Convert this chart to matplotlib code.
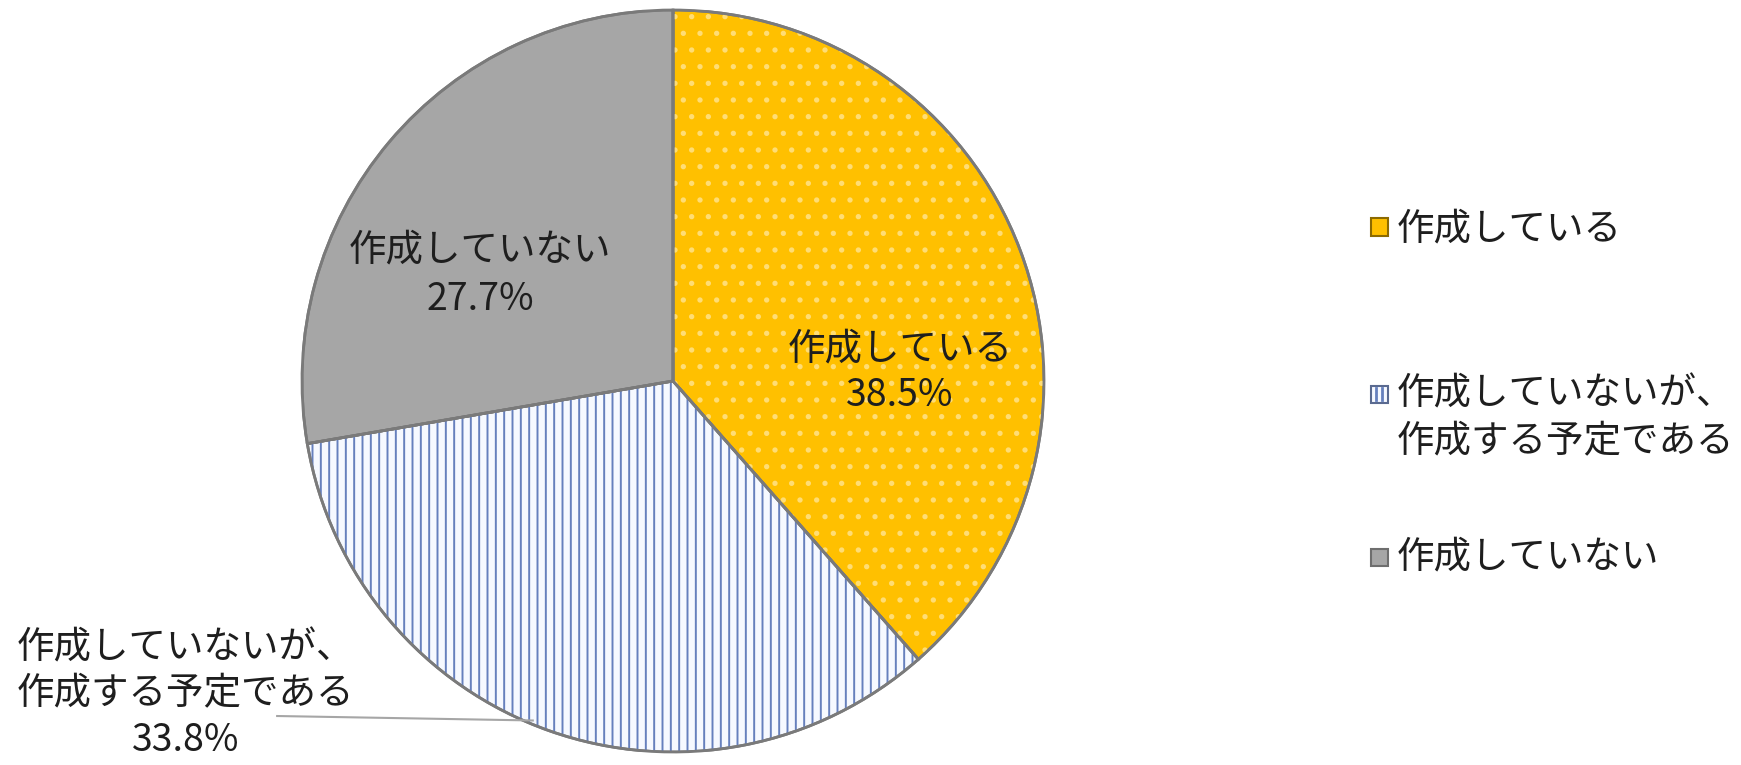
import matplotlib.pyplot as plt
import numpy as np
from matplotlib.patches import Wedge, Rectangle

plt.rcParams['font.family'] = ['Noto Sans CJK JP', 'DejaVu Sans']

# data
labels = ['作成している', '作成していないが、\n作成する予定である', '作成していない']
values = [38.5, 33.8, 27.7]
colors = ['#FFC000', '#F6F9FF', '#A6A6A6']
hatches = ['.', '||', None]
hatch_colors = ['#FFDD75', '#6680BD', None]

W, H = 1741, 765
fig = plt.figure(figsize=(W / 100, H / 100), dpi=100)
cx, cy, r = 673, 381, 371
ax = fig.add_axes([(cx - r) / W, (H - cy - r) / H, 2 * r / W, 2 * r / H])

plt.rcParams['hatch.linewidth'] = 1.4
wedges, _ = ax.pie(values, colors=colors, startangle=90, counterclock=False,
                   radius=1, wedgeprops=dict(edgecolor='#7A7A7A', linewidth=2))
# hatch overlays
for w, h, hc in zip(wedges, hatches, hatch_colors):
    if h is None:
        continue
    ov = Wedge(w.center, w.r, w.theta1, w.theta2, facecolor='none',
               edgecolor=hc, linewidth=0, hatch=h)
    ax.add_patch(ov)
# redraw outlines on top
for w in wedges:
    ax.add_patch(Wedge(w.center, w.r, w.theta1, w.theta2, facecolor='none',
                       edgecolor='#7A7A7A', linewidth=2))

ax.set_xlim(-1, 1)
ax.set_ylim(-1, 1)
ax.set_aspect('equal')
ax.axis('off')

fs = 27
tc = '#1E1E1E'
# in-slice labels
ax.text(0.612, 0.024, f'{labels[0]}\n{values[0]}%', ha='center', va='center',
        fontsize=fs, color=tc, linespacing=1.25)
ax.text(-0.52, 0.286, f'{labels[2]}\n{values[2]}%', ha='center', va='center',
        fontsize=fs, color=tc, linespacing=1.35)
# outside label with leader line
mid = np.deg2rad((wedges[1].theta1 + wedges[1].theta2) / 2 - 3)
ax.plot([-1.067, np.cos(mid) * 0.99], [-0.903, np.sin(mid) * 0.99],
        color='#A6A6A6', lw=1.5, clip_on=False)
ax.text(-1.313, -0.844, f'{labels[1]}\n{values[1]}%', ha='center', va='center',
        fontsize=fs, color=tc, linespacing=1.25, clip_on=False)

# legend drawn manually
leg_y = [229, 418, 557]
leg_mark_y = [227, 394, 557]
edge_cols = ['#8C6A00', '#5A6A90', '#6E6E6E']
for lab, col, h, hc, ec, ty, my in zip(labels, colors, hatches, hatch_colors,
                                        edge_cols, leg_y, leg_mark_y):
    fig.text(1397 / W, 1 - ty / H, lab, ha='left', va='center', fontsize=fs,
             color=tc, linespacing=1.3)
    s = 17
    rect = Rectangle(((1379 - s / 2) / W, 1 - (my + s / 2) / H), s / W, s / H,
                     transform=fig.transFigure, facecolor=col, edgecolor=ec,
                     linewidth=1.5)
    fig.patches.append(rect)
    if h == '||':
        for dx in (-3, 3):
            fig.add_artist(plt.Line2D([(1379 + dx) / W] * 2,
                                      [1 - (my - 6) / H, 1 - (my + 6) / H],
                                      color=hc, lw=2))

fig.savefig('out.png', dpi=100)
